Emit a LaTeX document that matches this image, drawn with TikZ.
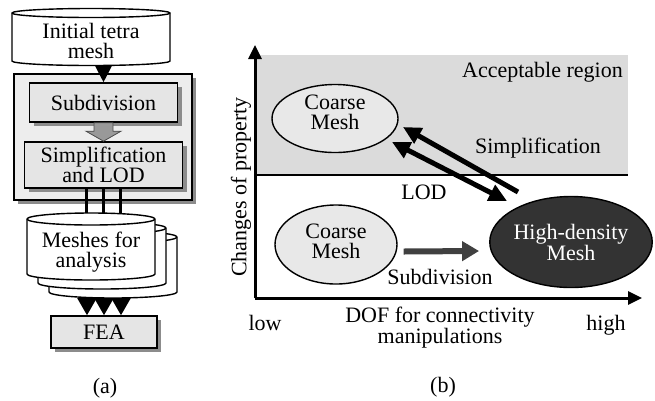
\documentclass[tikz,border=0pt]{standalone}
\usepackage{fontspec}
\setmainfont{Liberation Serif}
\usetikzlibrary{arrows.meta,shapes.geometric,shadows,calc}

% drum outline: left x, right x, y of top ellipse centre, y of bottom arc centre, y radius
\newcommand\drumshape[5]{%
  \pgfmathsetmacro\drumrx{(#2-#1)/2}%
  \filldraw[drum] (#1,#3) -- (#1,#4)
     arc[start angle=180,end angle=0,x radius=\drumrx,y radius=#5]
     -- (#2,#3)
     arc[start angle=0,end angle=-180,x radius=\drumrx,y radius=#5] -- cycle;
  \draw[drum] (#1,#3) arc[start angle=180,end angle=0,x radius=\drumrx,y radius=#5];
}

\begin{document}
\begin{tikzpicture}[x=1pt,y=-1pt,
  every node/.style={font=\fontsize{22}{20}\selectfont, inner sep=0pt, align=center},
  drop/.style={general shadow={fill=black!45, shadow xshift=4pt, shadow yshift=-4pt}},
  procbox/.style={draw, line width=1.6pt, fill=black!10, drop},
  drum/.style={line width=1.4pt, draw=black, fill=white},
  meshell/.style={ellipse, draw, line width=1.4pt, fill=black!9},
  axis/.style={line width=3pt, -{Triangle[length=14pt,width=13pt]}},
  flow/.style={line width=5pt, -{Triangle[length=18pt,width=17pt]}},
]
\useasboundingbox (0,0) rectangle (655,400);

% ---------------- (a) pipeline ----------------
\drumshape{12}{170}{13}{61}{4.5}
\node[minimum width=158pt, minimum height=48pt] (init) at (91,41) {Initial tetra\\mesh};

\node[draw, line width=1.3pt, fill=black!7, drop,
      minimum width=178pt, minimum height=126pt] (frame) at (103,137) {};
\node[procbox, minimum width=148pt, minimum height=39pt] (sub) at (103.5,102.5) {Subdivision};
\node[procbox, minimum width=158pt, minimum height=46pt] (simp) at (103.5,165) {Simplification\\and LOD};

\draw[line width=2pt, -{Triangle[length=16pt,width=16pt]}] (init.south -| sub.north) -- (sub.north);

% grey block arrow between the two stages
\filldraw[fill=black!40, draw=black!70, line width=0.8pt]
  ($(sub.south)+(-9.5,0)$) -- ($(simp.north)+(-9.5,-10)$) -- ($(simp.north)+(-17.5,-10)$)
  -- (simp.north) -- ($(simp.north)+(17.5,-10)$) -- ($(simp.north)+(9.5,-10)$)
  -- ($(sub.south)+(9.5,0)$) -- cycle;

% stack of result meshes
\drumshape{49}{177}{237}{292}{6}
\drumshape{38}{166}{228}{283}{6}
\drumshape{27}{155}{219}{274}{6}
\node[minimum width=128pt, minimum height=55pt] (meshesB) at (113,270.5) {};
\node[minimum width=128pt, minimum height=55pt] (meshes) at (91,252.5) {Meshes for\\analysis};
\coordinate (meshtop) at (91,213);

\foreach \dx in {-17,0,17}
  \draw[line width=3pt] ([xshift=\dx pt]simp.south) -- ([xshift=\dx pt]simp.south |- meshtop);

\node[procbox, minimum width=106pt, minimum height=32pt] (fea) at (104,332) {FEA};
\foreach \dx in {-17,0,17}
  \draw[line width=2pt, -{Triangle[length=17pt,width=19pt]}]
    ([xshift=\dx pt]fea.north |- meshesB.south) -- ([xshift=\dx pt]fea.north);

\node (capa) at (105,388) {(a)};

% ---------------- (b) property chart ----------------
\node[fill=black!14, minimum width=373pt, minimum height=120pt] (zone) at (441.5,115) {};
\draw[line width=1.5pt] (zone.south west) -- (zone.south east);

\coordinate (origin) at (255,298);
\coordinate (ytip) at (255,45);
\coordinate (xtip) at (642,298);
\draw[axis] (origin) -- (ytip);
\draw[axis] (origin) -- (xtip);

\node[anchor=east] (accept) at (623,72) {Acceptable region};

\node[meshell, minimum width=126pt, minimum height=68pt,
      label={[yshift=6pt]center:Coarse\\Mesh}] (coarseA) at (335,118.5) {};
\node[meshell, minimum width=122pt, minimum height=79pt,
      label={[yshift=3pt]center:Coarse\\Mesh}] (coarseB) at (336,244.5) {};
\node[ellipse, draw, line width=1.4pt, fill=black!80, text=white,
      minimum width=162pt, minimum height=91pt] (dense) at (571,242) {High-density\\Mesh};

% transitions between mesh states
\draw[line width=6pt, draw=black!75, -{Triangle[length=17pt,width=19pt]}]
  ($(coarseB.east)+(6,7)$) -- ($(dense.west)+(-10,9)$);
\draw[flow] ($(dense)+(-53,-50)$) -- ($(coarseA)+(68,8.5)$);
\draw[flow, {Triangle[length=18pt,width=17pt]}-{Triangle[length=18pt,width=17pt]}]
  ($(coarseA)+(57,23.5)$) -- ($(dense)+(-64,-41)$);

\node (simplbl) at (538,148) {Simplification};
\node (lodlbl) at (424,192) {LOD};
\node (sublbl) at (440,277) {Subdivision};

\node[rotate=90] (ylbl) at (241,187) {Changes of property};
\node (low) at (265,323) {low};
\node (dof) at (440,328) {DOF for connectivity\\manipulations};
\node (high) at (606,325) {high};

\node (capb) at (443,387) {(b)};
\end{tikzpicture}
\end{document}
